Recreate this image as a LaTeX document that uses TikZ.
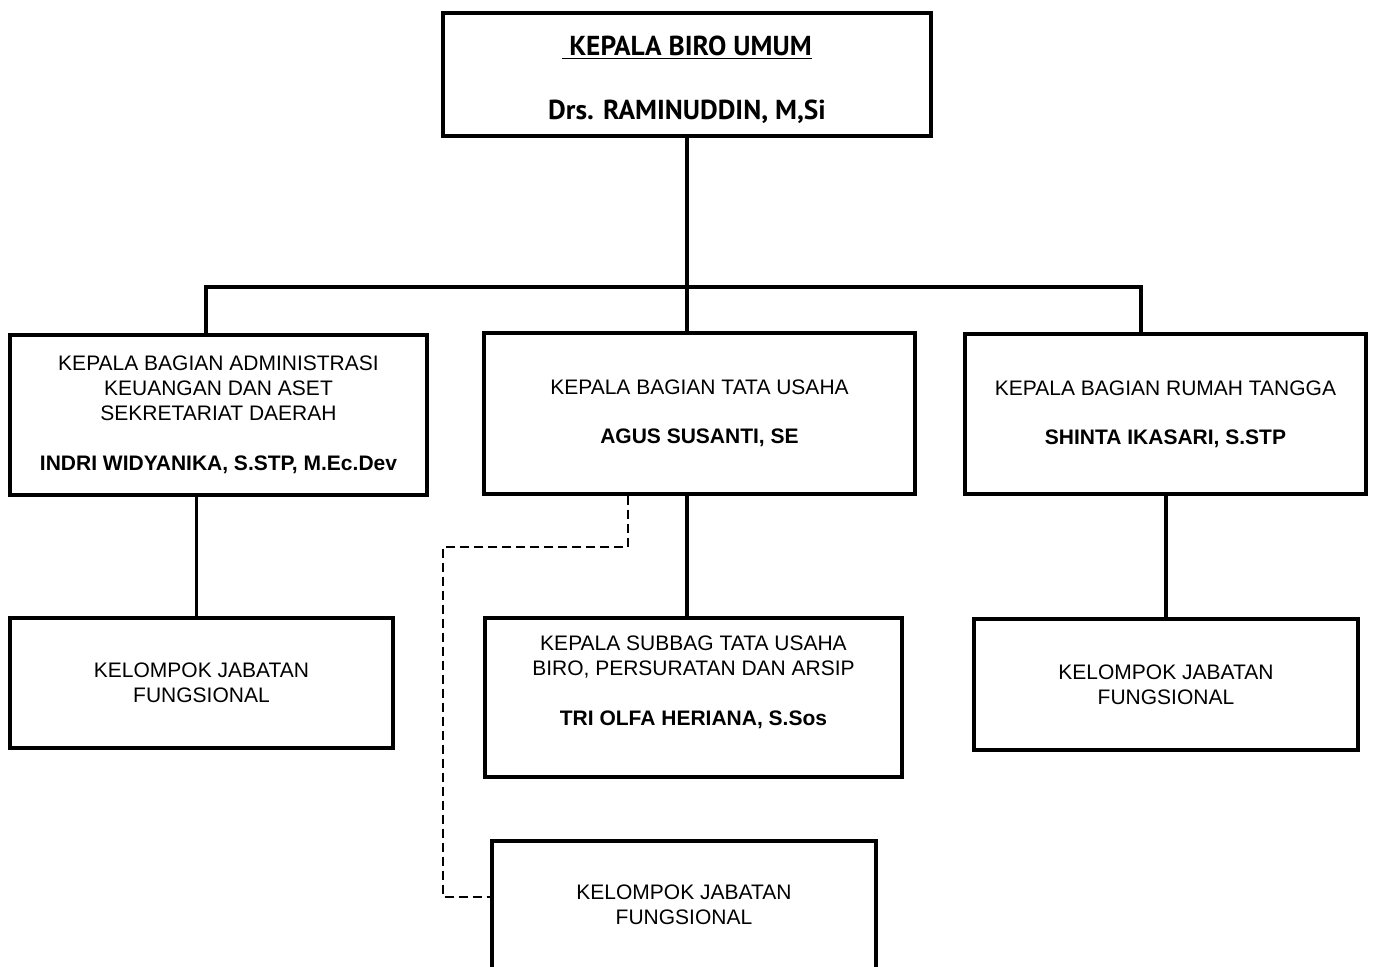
\documentclass[tikz,border=0pt]{standalone}
\usepackage{fontspec}
\setmainfont{Liberation Sans}
\newfontfamily\dinfont{PT Sans}
\usepackage{tikz}
\usetikzlibrary{calc}

\begin{document}
\begin{tikzpicture}[x=0.5pt, y=-0.5pt,
    box/.style={draw, line width=1.6pt, align=center, inner sep=0pt,
      font=\fontsize{10.5}{12.5}\selectfont},
    link/.style={line width=1.6pt},
    dashlink/.style={line width=0.8pt, dash pattern=on 4.5pt off 2.5pt}]
    \useasboundingbox (0,0) rectangle (1373,967);
    % kepala biro
    \node[box, minimum width=244pt, minimum height=61.5pt, font=\dinfont\bfseries\fontsize{13.7}{16}\selectfont] (kbu) at (687,74.5)
      {\underline{\ KEPALA BIRO UMUM}\\[16pt] Drs. RAMINUDDIN, M,Si\\[-19pt]\mbox{}};
    % kepala bagian
    \node[box, minimum width=208.5pt, minimum height=80pt] (kbak) at (218.5,415)
      {KEPALA BAGIAN ADMINISTRASI\\ KEUANGAN DAN ASET\\ SEKRETARIAT DAERAH\\[12.5pt] \textbf{INDRI WIDYANIKA, S.STP, M.Ec.Dev}};
    \node[box, minimum width=215.5pt, minimum height=80.5pt] (kbtu) at (699.5,413.5)
      {KEPALA BAGIAN TATA USAHA\\[12pt] \textbf{AGUS SUSANTI, SE}};
    \node[box, minimum width=200.5pt, minimum height=80pt] (kbrt) at (1165.5,414)
      {KEPALA BAGIAN RUMAH TANGGA\\[12pt] \textbf{SHINTA IKASARI, S.STP}};
    % bawahan
    \node[box, minimum width=191.5pt, minimum height=65pt] (kjf1) at (201.5,683)
      {KELOMPOK JABATAN\\ FUNGSIONAL};
    \node[box, minimum width=208.5pt, minimum height=79.5pt] (ksub) at (693.5,697.5)
      {KEPALA SUBBAG TATA USAHA\\ BIRO, PERSURATAN DAN ARSIP\\[12.5pt] \textbf{TRI OLFA HERIANA, S.Sos}\\[4.5pt] \mbox{}};
    \node[box, minimum width=192pt, minimum height=65.5pt] (kjf3) at (1166,684.5)
      {KELOMPOK JABATAN\\ FUNGSIONAL};
    \node[box, minimum width=192pt, minimum height=64pt] (kjf2) at (684,905)
      {KELOMPOK JABATAN\\ FUNGSIONAL};
    % garis
    \coordinate (busL) at (206,287);
    \coordinate (busR) at (1141,287);
    \draw[link, line cap=rect] (busL) -- (busR);
    \draw[link] (kbu.south) -- (kbu.south |- kbtu.north);
    \draw[link] (busL) -- (busL |- kbak.north);
    \draw[link] (busR) -- (busR |- kbrt.north);
    \draw[link] ([xshift=-2.5pt]kjf1.north) -- ([xshift=-2.5pt]kjf1.north |- kbak.south);
    \draw[link] (kbu.south |- ksub.north) -- (kbu.south |- kbtu.south);
    \draw[link] (kjf3.north) -- (kjf3.north |- kbrt.south);
    \coordinate (dtop) at (628,547);
    \coordinate (dleft) at (443,897);
    \draw[dashlink] (kbtu.south -| dtop) -- (dtop) -| (dleft) -- (dleft -| kjf2.west);
\end{tikzpicture}
\end{document}
